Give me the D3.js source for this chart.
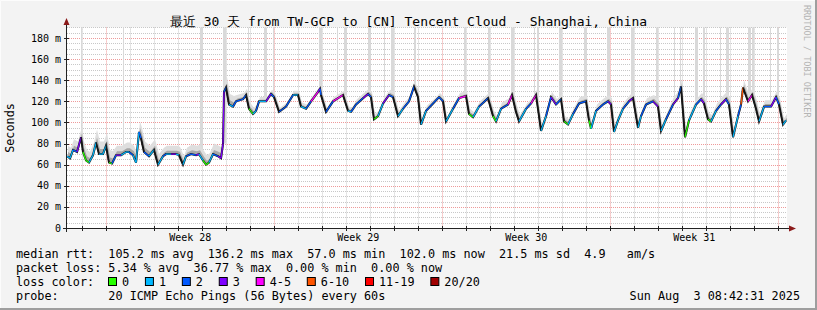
<!DOCTYPE html>
<meta charset="utf-8">
<style>
    body { margin: 0; background: #f3f3f3; }
    text { font-family: "DejaVu Sans Mono", monospace; fill: #000; white-space: pre; }
</style>
<body>
<script src="https://d3js.org/d3.v7.min.js"></script>
<script>
// hours since start of the 30 day window, median rtt (ms) and loss class at that point
const hours = [0,3,6,10,14,16,19,22,26,29, 32,36,39,42,45,49,54,59,62,66,
    69,72,74,77,82,87,91,96,99,104, 109,112,116,119,124,129,132,136,139,142,
    146,151,154,156,157,159,162,166,169,176, 179,182,186,189,192,199,204,207,212,219,
    226,231,234,239,244,251,253,254,259,266, 276,281,284,289,296,301,304,307,311,316,
    322,326,331,336,342,347,351,354,359,366, 372,376,379,386,392,399,402,406,412,421,
    426,429,434,441,445,449,452,459,464,469, 472,474,479,484,489,494,497,501,506,512,
    519,522,524,529,536,541,544,547,551,556, 562,566,569,571,574,579,586,591,594,599,
    606,611,614,616,618,622,629,634,637,641, 644,649,654,659,662,666,671,674,676,681,
    685,689,692,697,704,709,712,716,719];
const median = [68,66,74,72,86,72,64,62,69,81, 70,70,78,62,61,69,69,72,72,69,
    62,91,85,72,68,74,60,68,70,70, 70,69,60,68,70,69,70,64,60,62,
    70,68,66,80,129,133,117,115,120,122, 126,113,108,111,120,120,127,124,110,115,
    126,126,115,113,120,129,132,126,110,120, 126,111,110,117,123,127,124,103,106,118,
    126,124,106,113,120,134,124,98,111,118, 124,120,101,113,123,125,108,105,115,123,
    106,101,113,117,126,110,101,113,118,126, 106,92,106,124,117,122,101,98,108,118,
    120,102,94,111,117,120,117,91,102,113, 120,123,106,95,106,117,120,115,92,103,
    117,123,134,110,86,102,117,122,118,103, 101,111,117,122,117,86,106,117,133,120,
    126,113,101,115,115,124,117,98,102];
const loss = [2,1,1,2,3,1,0,0,1,1, 2,1,1,0,0,2,3,1,1,2,
    1,1,2,1,2,1,0,1,2,1, 3,1,0,1,2,2,3,1,0,0,
    1,2,3,3,3,2,0,1,2,2, 2,1,0,1,2,1,3,2,1,2,
    2,1,1,1,2,4,3,2,1,2, 4,1,1,2,2,3,2,0,0,1,
    3,2,0,1,2,2,3,0,1,2, 2,2,0,1,2,4,0,0,1,2,
    0,0,1,2,4,1,1,1,2,4, 1,0,1,2,3,2,0,0,1,2,
    2,0,0,1,2,2,3,0,1,1, 2,3,1,0,1,2,2,3,0,1,
    2,3,2,1,1,0,1,2,3,1, 0,1,2,3,2,1,1,2,5,2,
    4,1,0,1,2,3,2,0,1];
// smoke spread above the median, one value per day (ms)
const smokeUp = [10,12,9,10,8,9,10,6,4,4, 4,4,5,5,5,4,5,5,6,5, 5,6,6,6,6,7,6,7,7,6];
// hours where single pings went off the top of the graph, and their widths
const spikeHours = [14,56,133,156,181,197,206,252,270,277, 301,317,324,347,397,421,444,467,470,492,
    517,540,564,589,607,613,628,636,653,659, 681,685,703,710];
const spikeWidth = [1,1,3,3,1,3,1,3,1,3, 3,1,3,2,2,2,3,1,2,3, 3,3,3,2,1,1,3,2,1,3, 3,2,1,2];

const lossLabels = ["0", "1", "2", "3", "4-5", "6-10", "11-19", "20/20"];
const lossColors = ["#26ff00", "#00b8ff", "#0059ff", "#7e00ff", "#ff00ff", "#ff5500", "#ff0000", "#a00000"];

const statLines = [
    "median rtt:  105.2 ms avg  136.2 ms max  57.0 ms min  102.0 ms now  21.5 ms sd  4.9   am/s",
    "packet loss: 5.34 % avg  36.77 % max  0.00 % min  0.00 % now"
];
const probeLine = "probe:       20 ICMP Echo Pings (56 Bytes) every 60s";
const stamp = "Sun Aug  3 08:42:31 2025";
const title = "最近 30 天 from TW-GCP to [CN] Tencent Cloud - Shanghai, China";

var width = 817,
    height = 310;

var t0 = new Date(Date.UTC(2025, 6, 4, 8, 42, 31)),
    t1 = new Date(t0.getTime() + 30 * 864e5);
var hr = h => new Date(t0.getTime() + h * 36e5);

var x = d3.scaleTime().domain([t0, t1]).range([67, 787]);
var y = d3.scaleLinear().domain([0, 190]).range([228, 228 - 190 * 190 / 180]);

var svg = d3.select("body").append("svg")
    .attr("width", width)
    .attr("height", height);

// canvas + frame
svg.append("rect").attr("width", width).attr("height", height).attr("fill", "#f3f3f3");
svg.append("path").attr("d", `M0.5,${height} V0.5 H${width}`).attr("stroke", "#fcfcfc").attr("fill", "none");
svg.append("path").attr("d", `M0,${height - 1} H${width - 1} V0`).attr("stroke", "#9e9e9e").attr("stroke-width", 2).attr("fill", "none");

svg.append("rect")
    .attr("x", 67).attr("y", y(190))
    .attr("width", 720).attr("height", 228 - y(190))
    .attr("fill", "#ffffff");

var grid = svg.append("g").attr("stroke-dasharray", "1,1").attr("stroke-width", 1);
var px = v => Math.round(v) + 0.5;

// horizontal grid
y.ticks(38).filter(d => d % 20 != 0).forEach(d => {
    grid.append("line").attr("x1", 67).attr("x2", 787).attr("y1", px(y(d))).attr("y2", px(y(d)))
        .attr("stroke", "#c8c8c8");
});
y.ticks(10).filter(d => d > 0).forEach(d => {
    grid.append("line").attr("x1", 67).attr("x2", 787).attr("y1", px(y(d))).attr("y2", px(y(d)))
        .attr("stroke", "#ee9a9a");
});
// vertical grid
d3.utcDay.range(t0, t1).forEach(d => {
    grid.append("line").attr("y1", y(190)).attr("y2", 228).attr("x1", px(x(d))).attr("x2", px(x(d)))
        .attr("stroke", d.getUTCDay() == 0 ? "#ee9a9a" : "#c8c8c8");
});

var pts = hours.map((h, i) => ({ t: hr(h), v: median[i], l: loss[i], s: smokeUp[Math.min(29, Math.floor(h / 24))] }));

// pings above the top of the graph
svg.append("g").selectAll("rect")
    .data(spikeHours)
    .enter().append("rect")
    .attr("x", (d, i) => Math.round(x(hr(d))))
    .attr("width", (d, i) => spikeWidth[i])
    .attr("y", y(190))
    .attr("height", (d, i) => {
        var j = d3.bisector(p => p.t).center(pts, hr(d));
        return y(pts[j].v) - y(190);
    })
    .attr("fill", "#d9d9d9");

// smoke
svg.append("path")
    .datum(pts)
    .attr("d", d3.area().x(d => x(d.t) + 1).y0(d => y(d.v - 1)).y1(d => y(d.v + d.s)))
    .attr("fill", "#dedede");
svg.append("path")
    .datum(pts)
    .attr("d", d3.area().x(d => x(d.t) + 1).y0(d => y(d.v)).y1(d => y(d.v + d.s / 2.5)))
    .attr("fill", "#a8a8a8");

// median line: dark core, then coloured by loss
var line = d3.line().x(d => x(d.t)).y(d => y(d.v));
svg.append("path")
    .datum(pts)
    .attr("d", line)
    .attr("fill", "none")
    .attr("stroke", "#161616")
    .attr("stroke-width", 2);

svg.append("g").selectAll("path")
    .data(d3.pairs(pts))
    .enter().append("path")
    .attr("d", d => line(d))
    .attr("fill", "none")
    .attr("stroke", d => d[1].v < d[0].v - 8 ? "#161616" : lossColors[d[1].l])
    .attr("stroke-width", 1.2);

// axes
var axis = svg.append("g").attr("stroke", "#222").attr("fill", "none");
axis.append("line").attr("x1", 66.5).attr("x2", 66.5).attr("y1", 232).attr("y2", 24);
axis.append("line").attr("x1", 63).attr("x2", 790).attr("y1", 228.5).attr("y2", 228.5);
y.ticks(10).forEach(d => {
    axis.append("line").attr("x1", 64).attr("x2", 69).attr("y1", px(y(d))).attr("y2", px(y(d)));
});
d3.utcDay.range(t0, t1).forEach(d => {
    axis.append("line").attr("x1", px(x(d))).attr("x2", px(x(d))).attr("y1", 226).attr("y2", 231);
});
svg.append("path").attr("d", "M63.5,25 L66.5,18 L69.5,25 Z").attr("fill", "#8b1a1a");
svg.append("path").attr("d", "M789,225.5 L796,228.5 L789,231.5 Z").attr("fill", "#8b1a1a");

// y labels
svg.append("g").selectAll("text")
    .data(y.ticks(10))
    .enter().append("text")
    .attr("x", 61)
    .attr("y", d => y(d) + 3.5)
    .attr("text-anchor", "end")
    .style("font-size", "10px")
    .text(d => d == 0 ? "0" : d + " m");

// week labels
var fmtWeek = d3.utcFormat("%V");
svg.append("g").selectAll("text")
    .data(d3.utcSunday.range(d3.utcSunday.offset(t0, -1), t1)
        .map(d => new Date(d.getTime() + 3.5 * 864e5))
        .filter(d => d > t0 && d < t1))
    .enter().append("text")
    .attr("x", d => x(d))
    .attr("y", 241)
    .attr("text-anchor", "middle")
    .style("font-size", "10px")
    .text(d => "Week " + (+fmtWeek(d)));

// title and side labels
svg.append("text")
    .attr("x", width / 2).attr("y", 26)
    .attr("text-anchor", "middle")
    .style("font-size", "13px")
    .text(title);

svg.append("text")
    .attr("transform", "translate(14,128) rotate(-90)")
    .attr("text-anchor", "middle")
    .style("font-size", "11.8px")
    .text("Seconds");

svg.append("text")
    .attr("transform", "translate(804,5) rotate(90)")
    .style("font-size", "8.5px")
    .style("fill", "#b4b4b4")
    .text("RRDTOOL / TOBI OETIKER");

// legend
var cw = 7.1;
statLines.forEach((s, i) => {
    svg.append("text").attr("x", 16).attr("y", 258 + i * 14).style("font-size", "11.8px").text(s);
});
svg.append("text").attr("x", 16).attr("y", 286).style("font-size", "11.8px").text("loss color:");
var lx = 108;
lossLabels.forEach((l, i) => {
    svg.append("rect")
        .attr("x", lx + 0.5).attr("y", 277.5)
        .attr("width", 8).attr("height", 8)
        .attr("fill", lossColors[i])
        .attr("stroke", "#000");
    svg.append("text").attr("x", lx + 14).attr("y", 286).style("font-size", "11.8px").text(l);
    lx += (l.length + 4.2) * cw;
});
svg.append("text").attr("x", 16).attr("y", 300).style("font-size", "11.8px").text(probeLine);
svg.append("text").attr("x", 800).attr("y", 300).attr("text-anchor", "end").style("font-size", "11.8px").text(stamp);
</script>
</body>
